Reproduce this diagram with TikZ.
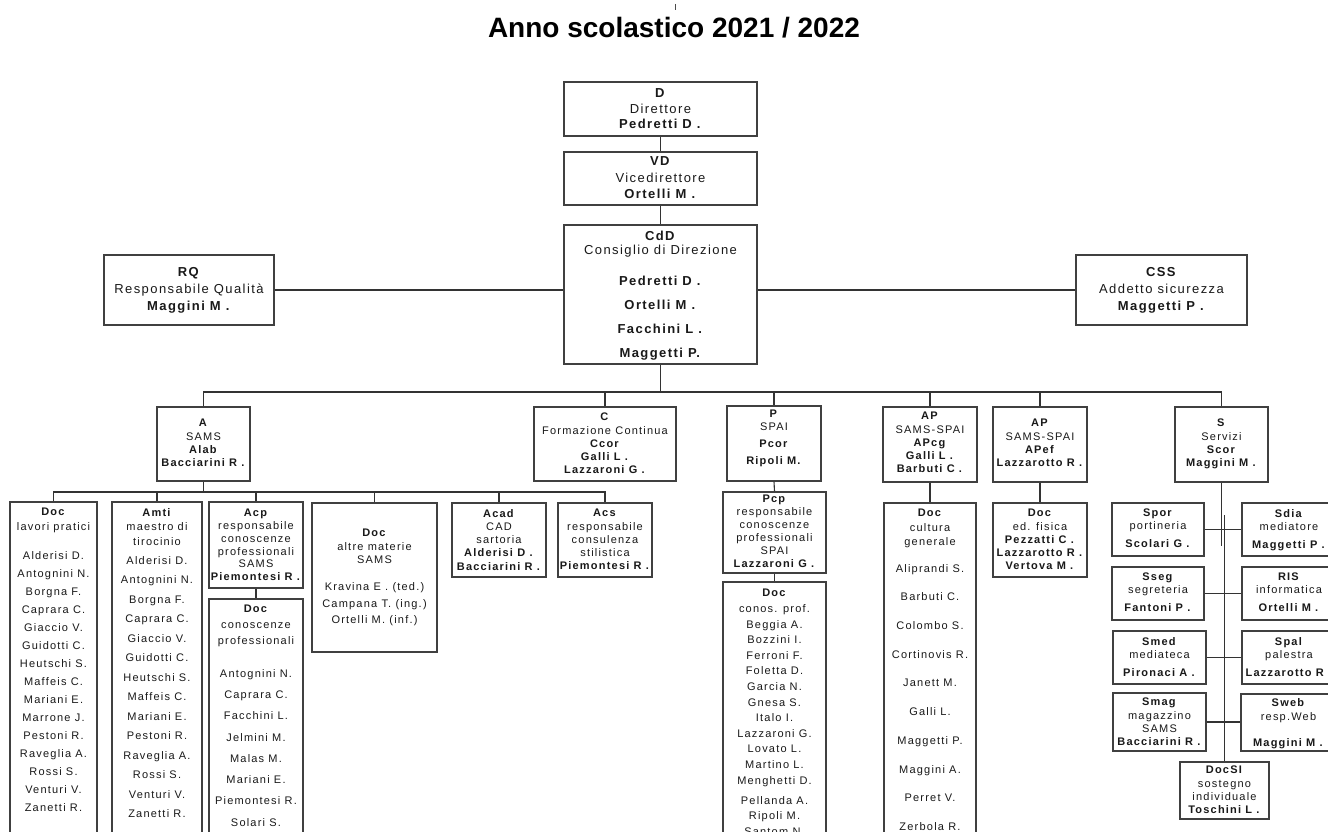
\documentclass[tikz,border=0pt]{standalone}
\usepackage{fontspec}
\setmainfont{Liberation Sans}[LetterSpace=11]
\newfontfamily\titlefont{Liberation Sans}
\usetikzlibrary{fit}
\tikzset{
  orgbox/.style={draw=black!75, line width=1.3pt, fill=white, inner sep=0pt},
  conn/.style={draw=black!80, line width=1.1pt},
  lst/.style={inner sep=0pt, align=center, anchor=north, text=black!90},
  sm/.style={lst, font=\fontsize{11}{#1}\selectfont},
  bg/.style={lst, font=\fontsize{13}{#1}\selectfont},
}
\begin{document}
\begin{tikzpicture}[x=1pt,y=-1pt]
\useasboundingbox (0,0) rectangle (1328,832);
\clip (0,0) rectangle (1328,832);
\fill[white] (0,0) rectangle (1328,832);

% title
\node[inner sep=0pt, font=\titlefont\bfseries\fontsize{28}{30}\selectfont] (title) at (674,28) {Anno scolastico 2021 / 2022};
\draw[line width=0.8pt, black!70] (675,4) -- (675,10);

% top level
\node[orgbox, fit={(564,82)(757,136)}] (D) {};
\node[bg=15.5] (Dt) at (660.5,88.5) {\textbf{D}\\Direttore\\\textbf{Pedretti D .}};
\node[orgbox, fit={(564,152)(757,205)}] (VD) {};
\node[bg=16.5] (VDt) at (660.5,156.5) {\textbf{VD}\\Vicedirettore\\\textbf{Ortelli M .}};
\node[orgbox, fit={(564,225)(757,364)}] (CdD) {};
\node[bg=14] (CdDt) at (660.5,230.5) {\textbf{CdD}\\Consiglio di Direzione\\[17pt]\textbf{Pedretti D .}\\[10pt]\textbf{Ortelli M .}\\[10pt]\textbf{Facchini L .}\\[10pt]\textbf{Maggetti P.}};
\node[orgbox, fit={(104,255)(274,325)}] (RQ) {};
\node[bg=17] (RQt) at (189,267.5) {\textbf{RQ}\\Responsabile Qualità\\\textbf{Maggini M .}};
\node[orgbox, fit={(1076,255)(1247,325)}] (CSS) {};
\node[bg=17] (CSSt) at (1161.5,267.5) {\textbf{CSS}\\Addetto sicurezza\\\textbf{Maggetti P .}};

% second level
\node[orgbox, fit={(157,407)(250,481)}] (A) {};
\node[sm=13.3] (At) at (203.5,419) {\textbf{A}\\SAMS\\\textbf{Alab}\\\textbf{Bacciarini R .}};
\node[orgbox, fit={(534,407)(676,481)}] (C) {};
\node[sm=13.25] (Ct) at (605,413) {\textbf{C}\\Formazione Continua\\\textbf{Ccor}\\\textbf{Galli L .}\\\textbf{Lazzaroni G .}};
\node[orgbox, fit={(727,406)(821,481)}] (P) {};
\node[sm=13] (Pt) at (774,410) {\textbf{P}\\SPAI\\[4pt]\textbf{Pcor}\\[4pt]\textbf{Ripoli M.}};
\node[orgbox, fit={(883,407)(977,482)}] (AP1) {};
\node[sm=13.25] (AP1t) at (930,412) {\textbf{AP}\\SAMS-SPAI\\\textbf{APcg}\\\textbf{Galli L .}\\\textbf{Barbuti C .}};
\node[orgbox, fit={(993,407)(1087,482)}] (AP2) {};
\node[sm=13.3] (AP2t) at (1040,419) {\textbf{AP}\\SAMS-SPAI\\\textbf{APef}\\\textbf{Lazzarotto R .}};
\node[orgbox, fit={(1175,407)(1268,482)}] (S) {};
\node[sm=13.3] (St) at (1221.5,419) {\textbf{S}\\Servizi\\\textbf{Scor}\\\textbf{Maggini M .}};

% SAMS branch
\node[orgbox, fit={(10,502)(97,845)}] (DocLP) {};
\node[sm=15] (DocLPh) at (53.5,508) {\textbf{Doc}\\lavori pratici};
\node[sm=18] (DocLPn) at (53.5,551) {Alderisi D.\\Antognini N.\\Borgna F.\\Caprara C.\\Giaccio V.\\Guidotti C.\\Heutschi S.\\Maffeis C.\\Mariani E.\\Marrone J.\\Pestoni R.\\Raveglia A.\\Rossi S.\\Venturi V.\\Zanetti R.};

\node[orgbox, fit={(112,502)(202,845)}] (Amti) {};
\node[sm=14.5] (Amtih) at (157,508) {\textbf{Amti}\\maestro di\\tirocinio};
\node[sm=19.5] (Amtin) at (157,556) {Alderisi D.\\Antognini N.\\Borgna F.\\Caprara C.\\Giaccio V.\\Guidotti C.\\Heutschi S.\\Maffeis C.\\Mariani E.\\Pestoni R.\\Raveglia A.\\Rossi S.\\Venturi V.\\Zanetti R.};

\node[orgbox, fit={(209,502)(303,588)}] (Acp) {};
\node[sm=12.8] (Acpt) at (256,509) {\textbf{Acp}\\responsabile\\conoscenze\\professionali\\SAMS\\\textbf{Piemontesi R .}};
\node[orgbox, fit={(209,599)(303,845)}] (DocCP) {};
\node[sm=16] (DocCPh) at (256,605) {\textbf{Doc}\\conoscenze\\professionali};
\node[sm=21.3] (DocCPn) at (256,669) {Antognini N.\\Caprara C.\\Facchini L.\\Jelmini M.\\Malas M.\\Mariani E.\\Piemontesi R.\\Solari S.};

\node[orgbox, fit={(312,503)(437,652)}] (DocAM) {};
\node[sm=13.5] (DocAMt) at (374.5,529) {\textbf{Doc}\\altre materie\\SAMS\\[13.5pt]Kravina E . (ted.)\\[3pt]Campana T. (ing.)\\[3pt]Ortelli M. (inf.)};
\node[orgbox, fit={(452,503)(546,577)}] (Acad) {};
\node[sm=13.25] (Acadt) at (499,509) {\textbf{Acad}\\CAD\\sartoria\\\textbf{Alderisi D .}\\\textbf{Bacciarini R .}};
\node[orgbox, fit={(558,503)(652,577)}] (Acs) {};
\node[sm=13.25] (Acst) at (605,509) {\textbf{Acs}\\responsabile\\consulenza\\stilistica\\\textbf{Piemontesi R .}};

% SPAI branch
\node[orgbox, fit={(723,492)(826,573)}] (Pcp) {};
\node[sm=13] (Pcpt) at (774.5,495) {\textbf{Pcp}\\responsabile\\conoscenze\\professionali\\SPAI\\\textbf{Lazzaroni G .}};
\node[orgbox, fit={(723,582)(826,845)}] (DocPR) {};
\node[sm=16] (DocPRh) at (774.5,589) {\textbf{Doc}\\conos. prof.};
\node[sm=15.6] (DocPRn) at (774.5,620) {Beggia A.\\Bozzini I.\\Ferroni F.\\Foletta D.\\Garcia N.\\Gnesa S.\\Italo I.\\Lazzaroni G.\\Lovato L.\\Martino L.\\Menghetti D.\\[4.4pt]Pellanda A.\\Ripoli M.\\Santom N.};

\node[orgbox, fit={(884,503)(976,845)}] (DocCG) {};
\node[sm=14.5] (DocCGh) at (930,509) {\textbf{Doc}\\cultura\\generale};
\node[sm=28.7] (DocCGn) at (930,564) {Aliprandi S.\\Barbuti C.\\Colombo S.\\Cortinovis R.\\Janett M.\\Galli L.\\Maggetti P.\\Maggini A.\\Perret V.\\Zerbola R.};

\node[orgbox, fit={(993,503)(1087,577)}] (DocEF) {};
\node[sm=13.25] (DocEFt) at (1040,509) {\textbf{Doc}\\ed. fisica\\\textbf{Pezzatti C .}\\\textbf{Lazzarotto R .}\\\textbf{Vertova M .}};

% services
\node[orgbox, fit={(1112,503)(1204,556)}] (Spor) {};
\node[sm=13] (Sport) at (1158,509) {\textbf{Spor}\\portineria\\[5pt]\textbf{Scolari G .}};
\node[orgbox, fit={(1242,503)(1336,556)}] (Sdia) {};
\node[sm=13] (Sdiat) at (1289,509) {\textbf{Sdia}\\mediatore\\[5pt]\textbf{Maggetti P .}};
\node[orgbox, fit={(1112,567)(1204,620)}] (Sseg) {};
\node[sm=13] (Ssegt) at (1158,573) {\textbf{Sseg}\\segreteria\\[5pt]\textbf{Fantoni P .}};
\node[orgbox, fit={(1242,567)(1336,620)}] (RIS) {};
\node[sm=13] (RISt) at (1289,573) {\textbf{RIS}\\informatica\\[5pt]\textbf{Ortelli M .}};
\node[orgbox, fit={(1113,631)(1206,684)}] (Smed) {};
\node[sm=13] (Smedt) at (1159.5,637) {\textbf{Smed}\\mediateca\\[5pt]\textbf{Pironaci A .}};
\node[orgbox, fit={(1242,631)(1336,684)}] (Spal) {};
\node[sm=13] (Spalt) at (1289,637) {\textbf{Spal}\\palestra\\[5pt]\textbf{Lazzarotto R .}};
\node[orgbox, fit={(1113,693)(1206,751)}] (Smag) {};
\node[sm=13.3] (Smagt) at (1159.5,698) {\textbf{Smag}\\magazzino\\SAMS\\\textbf{Bacciarini R .}};
\node[orgbox, fit={(1241,694)(1336,751)}] (Sweb) {};
\node[sm=14] (Swebt) at (1288.5,698) {\textbf{Sweb}\\resp.Web\\[12pt]\textbf{Maggini M .}};
\node[orgbox, fit={(1180,762)(1269,819)}] (DocSI) {};
\node[sm=13.3] (DocSIt) at (1224.5,766) {\textbf{DocSI}\\sostegno\\individuale\\\textbf{Toschini L .}};

% connectors
\draw[conn] (D.south) -- (VD.north);
\draw[conn] (VD.south) -- (CdD.north);
\draw[conn] (RQ.east) -- (RQ.east -| CdD.west);
\draw[conn] (CSS.west -| CdD.east) -- (CSS.west);
\coordinate (mbus) at (660.5,392);
\draw[conn] (CdD.south) -- (mbus);
\draw[conn] (A.north) |- (mbus) -| (S.north);
\draw[conn] (C.north) -- (C.north |- mbus);
\draw[conn] (P.north) -- (P.north |- mbus);
\draw[conn] (AP1.north) -- (AP1.north |- mbus);
\draw[conn] (AP2.north) -- (AP2.north |- mbus);

\coordinate (abus) at (203.5,492);
\draw[conn] (A.south) -- (abus);
\draw[conn] (DocLP.north) |- (abus) -| (Acs.north);
\draw[conn] (Amti.north) -- (Amti.north |- abus);
\draw[conn] (Acp.north) -- (Acp.north |- abus);
\draw[conn] (DocAM.north) -- (DocAM.north |- abus);
\draw[conn] (Acad.north) -- (Acad.north |- abus);
\draw[conn] (Acp.south) -- (DocCP.north);

\draw[conn] (P.south) -- (Pcp.north);
\draw[conn] (Pcp.south) -- (DocPR.north);
\draw[conn] (AP1.south) -- (DocCG.north);
\draw[conn] (AP2.south) -- (DocEF.north);

\coordinate (sj1) at (1221.5,546);
\coordinate (sj2) at (1224.5,515);
\draw[conn] (S.south) -- (sj1);
\draw[conn] (sj2) -- (DocSI.north);
\draw[conn] (Spor.east) -- (Spor.east -| Sdia.west);
\draw[conn] (Sseg.east) -- (Sseg.east -| RIS.west);
\draw[conn] (Smed.east) -- (Smed.east -| Spal.west);
\draw[conn] (Smag.east) -- (Smag.east -| Sweb.west);
\end{tikzpicture}
\end{document}
